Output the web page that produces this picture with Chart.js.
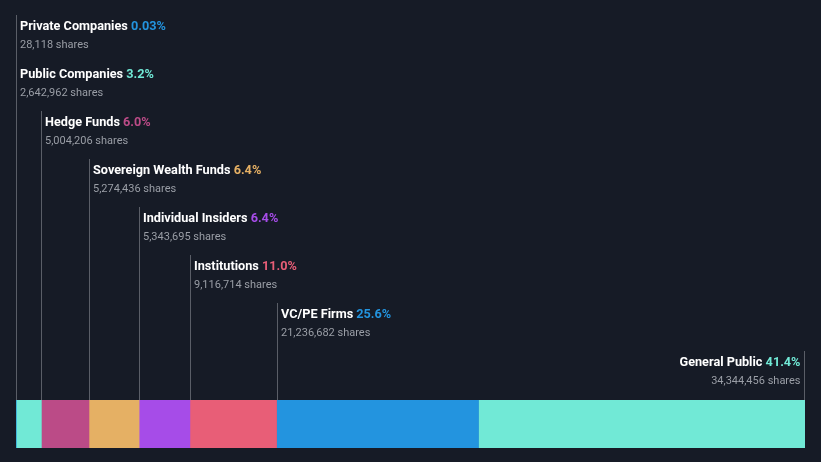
<!DOCTYPE html>
<html>
<head>
<meta charset="utf-8">
<script src="https://cdn.jsdelivr.net/npm/chart.js@4/dist/chart.umd.min.js"></script>
<style>
  html, body { margin: 0; padding: 0; background: #161b26; }
  #wrap { width: 821px; height: 462px; position: relative; }
</style>
</head>
<body>
<div id="wrap"><canvas id="chartOwnership"></canvas></div>
<script>
const groups = ['Private Companies', 'Public Companies', 'Hedge Funds', 'Sovereign Wealth Funds',
  'Individual Insiders', 'Institutions', 'VC/PE Firms', 'General Public'];
const shares = [28118, 2642962, 5004206, 5274436, 5343695, 9116714, 21236682, 34344456];
const pctLabels = ['0.03%', '3.2%', '6.0%', '6.4%', '6.4%', '11.0%', '25.6%', '41.4%'];
const colors = ['#2394df', '#71e9d6', '#bb4b87', '#e5b064', '#a64ce8', '#e85e77', '#2394df', '#71e9d6'];

const total = shares.reduce((s, v) => s + v, 0);

// labels + leader lines above the bar
const labelPlugin = {
  id: 'ownerLabels',
  afterDatasetsDraw(chart) {
    const { ctx, chartArea, scales } = chart;
    const x = scales.x;
    let cum = 0;
    ctx.save();
    groups.forEach((name, i) => {
      const last = i === groups.length - 1;
      const lx = last ? x.getPixelForValue(cum + shares[i]) : x.getPixelForValue(cum);
      cum += shares[i];
      const top = 15 + i * 48;
      const px = Math.round(lx) + (last ? -0.5 : 0.5);
      ctx.strokeStyle = '#5a5e67';
      ctx.lineWidth = 1;
      ctx.beginPath();
      ctx.moveTo(px, top);
      ctx.lineTo(px, chartArea.top);
      ctx.stroke();

      const pct = ' ' + pctLabels[i];
      ctx.font = 'bold 12.7px Roboto';
      ctx.textBaseline = 'alphabetic';
      const wName = ctx.measureText(name).width;
      const wPct = ctx.measureText(pct).width;
      let tx = last ? px - 4 - wName - wPct : px + 3.5;
      ctx.textAlign = 'left';
      ctx.fillStyle = '#ffffff';
      ctx.fillText(name, tx, top + 14.5);
      ctx.fillStyle = colors[i];
      ctx.fillText(pct, tx + wName, top + 14.5);

      ctx.font = '11px Roboto';
      ctx.fillStyle = '#9a9ea6';
      const sTxt = shares[i].toLocaleString('en-US') + ' shares';
      if (last) {
        ctx.textAlign = 'right';
        ctx.fillText(sTxt, px - 4, top + 32.5);
      } else {
        ctx.fillText(sTxt, tx, top + 32.5);
      }
    });
    ctx.restore();
  }
};

new Chart(document.getElementById('chartOwnership'), {
  type: 'bar',
  data: {
    labels: ['Ownership'],
    datasets: groups.map((g, i) => ({
      label: g,
      data: [shares[i]],
      backgroundColor: colors[i],
      borderWidth: 0,
      barPercentage: 1,
      categoryPercentage: 1,
      stack: 'a'
    }))
  },
  options: {
    indexAxis: 'y',
    responsive: true, maintainAspectRatio: false,
    animation: false,
    layout: { padding: { left: 16, right: 16, top: 400, bottom: 14 } },
    plugins: { legend: { display: false }, tooltip: { enabled: false } },
    scales: {
      x: { stacked: true, display: false, min: 0, max: total },
      y: { stacked: true, display: false }
    }
  },
  plugins: [labelPlugin]
});
</script>
</body>
</html>
